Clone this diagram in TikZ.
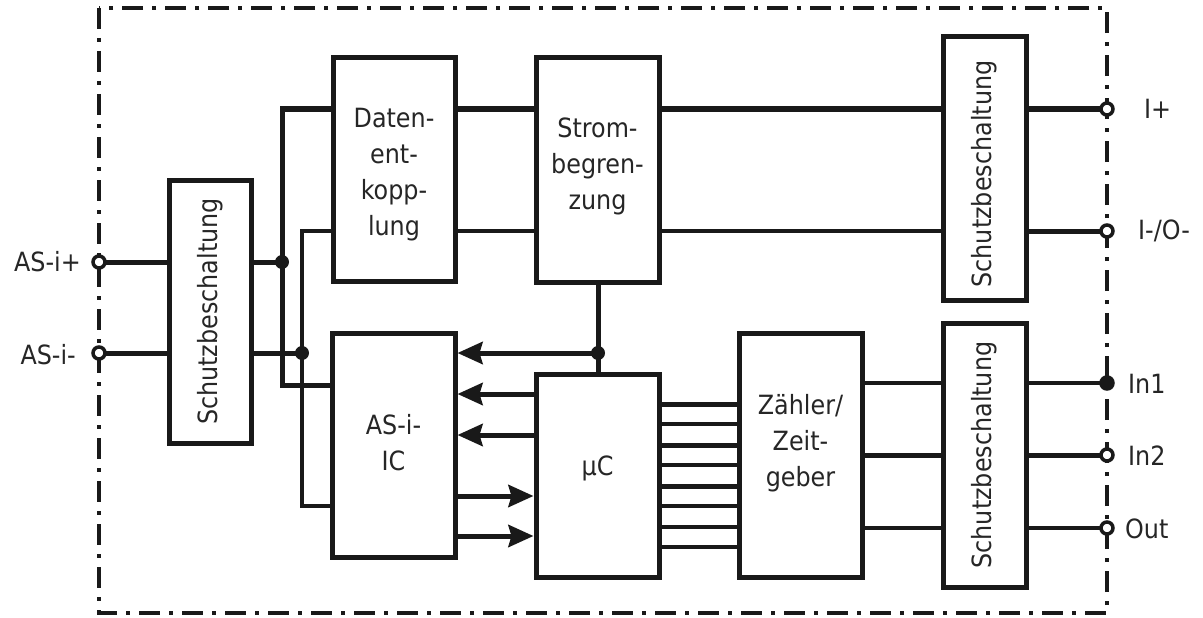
\documentclass[tikz,border=0pt]{standalone}
\usepackage{fontspec}
\setmainfont{DejaVu Sans Condensed}
\usetikzlibrary{arrows.meta}
\begin{document}
\begin{tikzpicture}[x=1pt,y=-1pt,
  every node/.style={font=\fontsize{26.5}{36}\selectfont, text=black!85},
  blk/.style={draw=black!90, line width=5pt, fill=white, inner sep=0pt},
  lbl/.style={align=center, inner sep=0pt},
  rlbl/.style={rotate=90, inner sep=0pt},
  thk/.style={line width=5pt, draw=black!90},
  thn/.style={line width=3.5pt, draw=black!90},
  arr/.style={line width=5pt, draw=black!90, -{Stealth[length=25pt,width=22pt,inset=3pt]}},
  term/.style={circle, draw=black!90, fill=white, line width=3.5pt, minimum size=12pt, inner sep=0pt},
  termf/.style={circle, draw=black!90, fill=black!90, line width=3.5pt, minimum size=12pt, inner sep=0pt},
  dot/.style={circle, fill=black!90, minimum size=14pt, inner sep=0pt},
  frame/.style={line width=4.5pt, draw=black!90, dash pattern=on 21pt off 9pt on 4pt off 9pt}
]
\useasboundingbox (0,0) rectangle (1203,618);
% frame
\draw[frame] (99,8) rectangle (1107,613);

% row coordinates
\coordinate (r109) at (0,109);
\coordinate (r231) at (0,231);
\coordinate (r353) at (0,353);
\coordinate (r385) at (0,385);
\coordinate (r394) at (0,394);
\coordinate (r435) at (0,435);
\coordinate (r496) at (0,496);
\coordinate (r506) at (0,506);
\coordinate (r536) at (0,536);
\coordinate (r383) at (0,383);
\coordinate (r455) at (0,455);
\coordinate (r528) at (0,528);

% boxes
\node[blk, minimum width=82pt, minimum height=263pt] (sb1) at (210.5,311.5) {};
\node[blk, minimum width=122pt, minimum height=223pt] (daten) at (394,169.5) {};
\node[blk, minimum width=123pt, minimum height=224pt] (strom) at (597.5,170) {};
\node[blk, minimum width=83pt, minimum height=263pt] (sb2) at (984.5,168.5) {};
\node[blk, minimum width=123pt, minimum height=224pt] (asic) at (393.5,445) {};
\node[blk, minimum width=123pt, minimum height=203pt] (uc) at (597.5,475.5) {};
\node[blk, minimum width=123pt, minimum height=244pt] (zaehler) at (800.5,455) {};
\node[blk, minimum width=83pt, minimum height=264pt] (sb3) at (984.5,455) {};

% texts
\node[rlbl] (tsb1) at (sb1.center) {Schutzbeschaltung};
\node[rlbl] (tsb2) at (984.5,174) {Schutzbeschaltung};
\node[rlbl] (tsb3) at (984.5,455) {Schutzbeschaltung};
\node[lbl] (tdaten) at (394,175) {Daten-\\ent-\\kopp-\\lung};
\node[lbl] (tstrom) at (597.5,166) {Strom-\\begren-\\zung};
\node[lbl] (tasic) at (393.5,443) {AS-i-\\IC};
\node[lbl] (tuc) at (597.5,468) {µC};
\node[lbl] (tzaehler) at (800.5,443) {Zähler/\\Zeit-\\geber};

% terminals (positions)
\coordinate (tAp) at (99,262);
\coordinate (tAm) at (99,353);
\coordinate (tIp) at (1107,109);
\coordinate (tIm) at (1107,231);
\coordinate (tIn1) at (1107,383);
\coordinate (tIn2) at (1107,455);
\coordinate (tOut) at (1107,528);

% junctions
\coordinate (j1) at (282,262);
\coordinate (j2) at (302,353);
\coordinate (j3) at (598,353);

% wires left
\draw[thk] (tAp) -- (tAp -| sb1.west);
\draw[thk] (tAm) -- (tAm -| sb1.west);
\draw[thk] (sb1.east |- tAp) -- (j1);
\draw[thk] (sb1.east |- tAm) -- (j2);
\draw[thk] (daten.west |- r109) -| (j1) |- (asic.west |- r385);
\draw[thn] (daten.west |- r231) -| (j2) |- (asic.west |- r506);

% wires top
\draw[thk] (daten.east |- r109) -- (strom.west |- r109);
\draw[thn] (daten.east |- r231) -- (strom.west |- r231);
\draw[thk] (strom.east |- r109) -- (sb2.west |- r109);
\draw[thn] (strom.east |- r231) -- (sb2.west |- r231);
\draw[thk] (sb2.east |- r109) -- (tIp);
\draw[thk] (sb2.east |- r231) -- (tIm);

% strom to uC
\draw[thk] (j3 |- strom.south) -- (j3 |- uc.north);

% arrows
\draw[arr] (j3) -- (asic.east |- j3);
\draw[arr] (uc.west |- r394) -- (asic.east |- r394);
\draw[arr] (uc.west |- r435) -- (asic.east |- r435);
\draw[arr] (asic.east |- r496) -- (uc.west |- r496);
\draw[arr] (asic.east |- r536) -- (uc.west |- r536);

% bus
\foreach \yy/\w in {404/5,424/4,445/5,465/3.5,486/5,506/4.5,527/3.5,547/3.5}{
  \draw[line width=\w pt, draw=black!90] (uc.east |- 0,\yy) -- (zaehler.west |- 0,\yy);
}

% zaehler to sb3 to terminals
\draw[thn] (zaehler.east |- r383) -- (sb3.west |- r383);
\draw[thk] (zaehler.east |- r455) -- (sb3.west |- r455);
\draw[thn] (zaehler.east |- r528) -- (sb3.west |- r528);
\draw[thn] (sb3.east |- r383) -- (tIn1);
\draw[thk] (sb3.east |- r455) -- (tIn2);
\draw[thn] (sb3.east |- r528) -- (tOut);

% dots
\node[dot] (d1) at (j1) {};
\node[dot] (d2) at (j2) {};
\node[dot] (d3) at (j3) {};

% terminal symbols
\node[term] (TAp) at (tAp) {};
\node[term] (TAm) at (tAm) {};
\node[term] (TIp) at (tIp) {};
\node[term] (TIm) at (tIm) {};
\node[termf] (TIn1) at (tIn1) {};
\node[term] (TIn2) at (tIn2) {};
\node[term] (TOut) at (tOut) {};

% terminal labels
\node[anchor=east, inner sep=0pt] (lAp) at (81,262) {AS-i+};
\node[anchor=east, inner sep=0pt] (lAm) at (76,355) {AS-i-};
\node[anchor=west, inner sep=0pt] (lIp) at (1144,109) {I+};
\node[anchor=west, inner sep=0pt] (lIm) at (1138,231) {I-/O-};
\node[anchor=west, inner sep=0pt] (lIn1) at (1128,384) {In1};
\node[anchor=west, inner sep=0pt] (lIn2) at (1128,456) {In2};
\node[anchor=west, inner sep=0pt] (lOut) at (1125,529) {Out};
\end{tikzpicture}
\end{document}
